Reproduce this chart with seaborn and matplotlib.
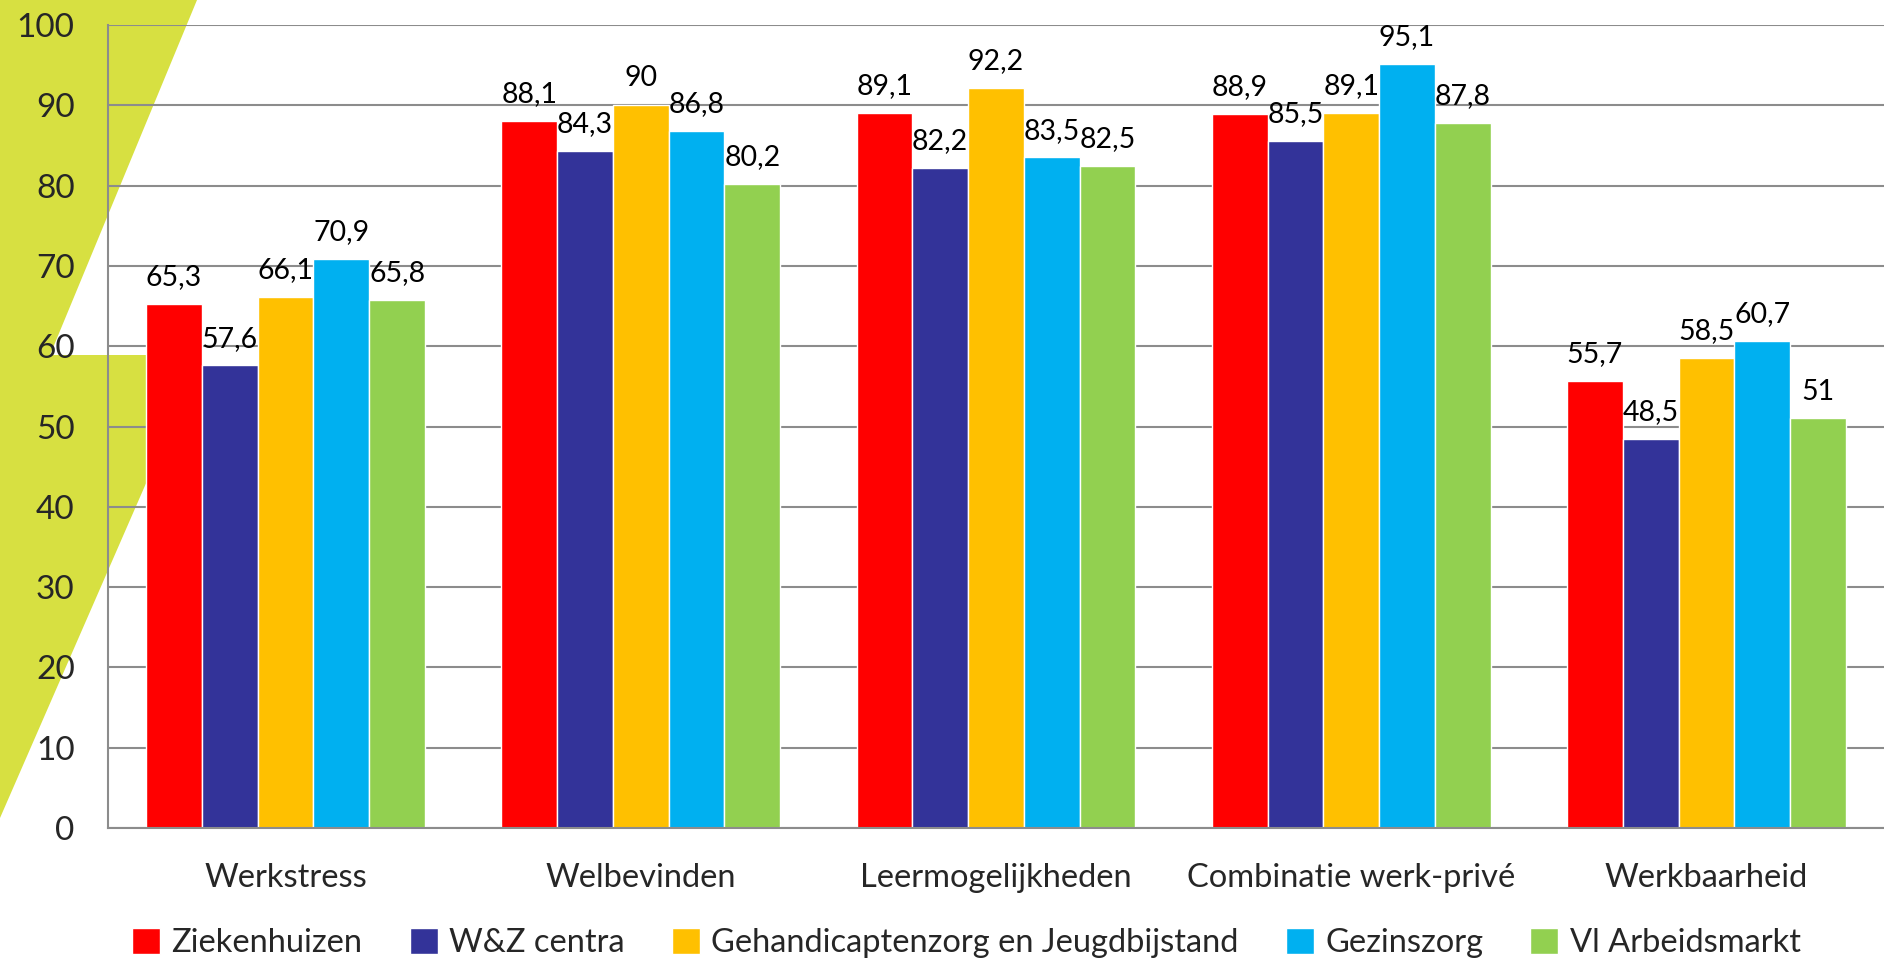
import matplotlib
matplotlib.use("Agg")
import matplotlib.pyplot as plt
from matplotlib.patches import Polygon
import seaborn as sns
import pandas as pd

categories = ["Werkstress", "Welbevinden", "Leermogelijkheden", "Combinatie werk-privé", "Werkbaarheid"]
series = ["Ziekenhuizen", "W&Z centra", "Gehandicaptenzorg en Jeugdbijstand", "Gezinszorg", "Vl Arbeidsmarkt"]
ziekenhuizen = [65.3, 88.1, 89.1, 88.9, 55.7]
wz_centra = [57.6, 84.3, 82.2, 85.5, 48.5]
gehandicaptenzorg = [66.1, 90.0, 92.2, 89.1, 58.5]
gezinszorg = [70.9, 86.8, 83.5, 95.1, 60.7]
vl_arbeidsmarkt = [65.8, 80.2, 82.5, 87.8, 51.0]
colors = ["#FF0000", "#333399", "#FFC000", "#00B0F0", "#92D050"]
yticks = [0, 10, 20, 30, 40, 50, 60, 70, 80, 90, 100]

values = [ziekenhuizen, wz_centra, gehandicaptenzorg, gezinszorg, vl_arbeidsmarkt]
rows = []
for s, vals in zip(series, values):
    for c, v in zip(categories, vals):
        rows.append({"cat": c, "series": s, "val": v})
df = pd.DataFrame(rows)

sns.set_theme(style="white")
plt.rcParams["font.family"] = ["Lato", "DejaVu Sans"]

W, H = 1884, 960
fig = plt.figure(figsize=(W / 100, H / 100), dpi=100)
fig.patch.set_facecolor("white")

# decorative background shapes (pixel coordinates of the figure)
shape_color = "#D7E041"
def fpts(pts):
    return [(x / W, 1 - y / H) for x, y in pts]
fig.add_artist(Polygon(fpts([(0, 0), (197, 0), (50, 355), (0, 355)]),
                       closed=True, transform=fig.transFigure, facecolor=shape_color,
                       edgecolor="none", zorder=-5))
fig.add_artist(Polygon(fpts([(0, 355), (202, 355), (0, 818)]),
                       closed=True, transform=fig.transFigure, facecolor=shape_color,
                       edgecolor="none", zorder=-5))

ax = fig.add_axes([108 / W, 1 - 828 / H, 1 - 108 / W, (828 - 25) / H])
ax.set_facecolor("none")

sns.barplot(data=df, x="cat", y="val", hue="series", palette=colors, width=0.785,
            saturation=1, ax=ax, order=categories, hue_order=series, errorbar=None)

for cont in ax.containers:
    labels = [f"{b.get_height():g}".replace(".", ",") for b in cont]
    ax.bar_label(cont, labels=labels, padding=10, fontsize=20.5, color="black")

ax.set_ylim(0, 100)
ax.set_xlim(-0.5, 4.5)
ax.set_yticks(yticks)
ax.set_yticklabels([str(t) for t in yticks], fontsize=24)
ax.tick_params(axis="y", length=0, pad=24)
ax.tick_params(axis="x", length=0, pad=25, labelsize=23.5)
ax.set_xlabel("")
ax.set_ylabel("")
ax.yaxis.grid(True, color="#8C8C8C", linewidth=1.5)
ax.set_axisbelow(True)
for side in ["top", "right"]:
    ax.spines[side].set_visible(False)
for side in ["left", "bottom"]:
    ax.spines[side].set_color("#8C8C8C")
    ax.spines[side].set_linewidth(1.5)

handles, labs = ax.get_legend_handles_labels()
ax.get_legend().remove()
fig.legend(handles, labs, loc="center", bbox_to_anchor=(0.513, 17 / H), ncol=5,
           frameon=False, fontsize=23.5, handlelength=0.85, handleheight=0.85,
           handletextpad=0.35, columnspacing=1.45)

fig.savefig("out.png", dpi=100)
